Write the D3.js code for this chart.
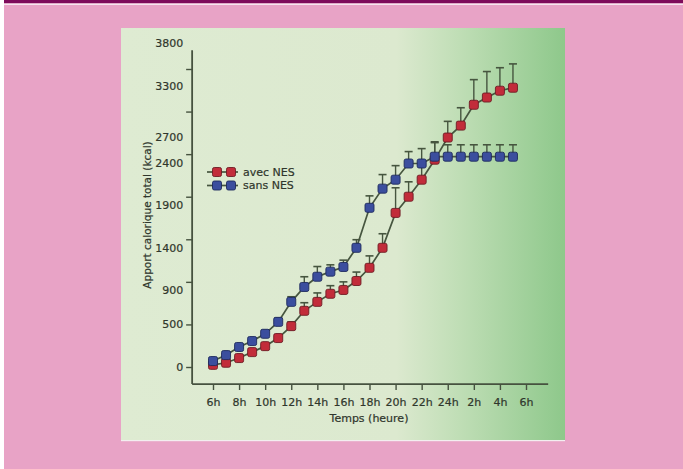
<!DOCTYPE html>
<html>
<head>
<meta charset="utf-8">
<script src="https://cdn.jsdelivr.net/npm/d3@7/dist/d3.min.js"></script>
<style>
  html, body { margin: 0; padding: 0; background: #E8A3C6; }
  svg { display: block; }
  text { font-family: "DejaVu Sans", sans-serif; fill: #2f362c; stroke: #2f362c; stroke-width: 0.2px; }
</style>
</head>
<body>
<svg id="chart" width="683" height="469"></svg>
<script>
// ---- data ----
const hours = [6,7,8,9,10,11,12,13,14,15,16,17,18,19,20,21,22,23,24,25,26,27,28,29];
const avecNES = [25,50,105,175,245,340,480,660,765,860,905,1010,1165,1400,1810,2000,2200,2435,2695,2835,3080,3165,3245,3280];
const avecNESErr = [35,35,35,35,35,40,50,95,105,95,95,105,140,165,295,175,175,210,190,210,295,305,270,280];
const sansNES = [70,140,235,305,390,530,765,940,1060,1120,1175,1400,1870,2095,2200,2390,2390,2470,2470,2470,2470,2470,2470,2470];
const sansNESErr = [35,35,35,35,40,45,60,120,120,80,80,95,140,165,165,140,175,165,140,140,140,140,140,140];
const xTickValues = [6,8,10,12,14,16,18,20,22,24,26,28,30];
const xTickLabels = ["6h","8h","10h","12h","14h","16h","18h","20h","22h","24h","2h","4h","6h"];
const yTickValues = [0,500,1000,1500,2000,2500,3000,3500];
const yLabelValues = [0,500,900,1400,1900,2400,2700,3300,3800];
const seriesNames = ["avec NES","sans NES"];

// ---- drawing ----
const svg = d3.select("#chart");
const W = 683, H = 469;

// page background
svg.append("rect").attr("width", W).attr("height", H).attr("fill", "#E8A3C6");
svg.append("rect").attr("x", 0).attr("y", 0).attr("width", 4).attr("height", H).attr("fill", "#ffffff");
svg.append("rect").attr("x", 4).attr("y", 0).attr("width", W - 4).attr("height", 3.2).attr("fill", "#7E0B5B");
svg.append("rect").attr("x", 4).attr("y", 3.6).attr("width", W - 4).attr("height", 1.4).attr("fill", "#F6E6EF");

// panel with gradient
const defs = svg.append("defs");
const grad = defs.append("linearGradient").attr("id", "pg").attr("x1", "0").attr("x2", "1").attr("y1", "0").attr("y2", "0");
[[0, "#DEEBD2"], [0.62, "#DCE9CF"], [0.76, "#C0DEB6"], [1, "#8EC88B"]].forEach(([o, c]) =>
  grad.append("stop").attr("offset", o).attr("stop-color", c));
svg.append("rect").attr("x", 121).attr("y", 28).attr("width", 444).attr("height", 412).attr("fill", "url(#pg)");
svg.append("rect").attr("x", 121).attr("y", 440).attr("width", 444).attr("height", 1.2).attr("fill", "#F3EEF0");

// scales
const x = d3.scaleLinear().domain([6, 30]).range([213, 526]);
const y = d3.scaleLinear().domain([0, 3500]).range([367, 69]);
const xExt = [4.4, 31.7];
const yExt = [-200, 3720];
const axisColor = "#46523F";

// y axis line
svg.append("line").attr("x1", x(xExt[0])).attr("x2", x(xExt[0]))
  .attr("y1", y(yExt[1])).attr("y2", y(yExt[0]))
  .attr("stroke", axisColor).attr("stroke-width", 1.8);
// x axis line
svg.append("line").attr("x1", x(xExt[0])).attr("x2", x(xExt[1]))
  .attr("y1", y(yExt[0])).attr("y2", y(yExt[0]))
  .attr("stroke", axisColor).attr("stroke-width", 1.8);

// y ticks
const yAxisG = svg.append("g").attr("transform", `translate(${x(xExt[0])},0)`)
  .call(d3.axisLeft(y).tickValues(yTickValues).tickFormat("").tickSize(6).tickSizeOuter(0));
yAxisG.select(".domain").remove();
yAxisG.selectAll("line").attr("stroke", axisColor).attr("stroke-width", 1.4);

// y labels
const yLabG = svg.append("g").attr("transform", `translate(${x(xExt[0])},0)`)
  .call(d3.axisLeft(y).tickValues(yLabelValues).tickFormat(d3.format("d")).tickSize(0).tickPadding(9));
yLabG.select(".domain").remove();
yLabG.selectAll("text").style("font-size", "11px").attr("fill", "#2f362c");

// x axis ticks + labels
const xAxisG = svg.append("g").attr("transform", `translate(0,${y(yExt[0])})`)
  .call(d3.axisBottom(x).tickValues(xTickValues).tickFormat((d, i) => xTickLabels[i]).tickSize(6).tickPadding(8));
xAxisG.select(".domain").remove();
xAxisG.selectAll("line").attr("stroke", axisColor).attr("stroke-width", 1.4);
xAxisG.selectAll("text").style("font-size", "11px").attr("fill", "#2f362c");

// axis titles
svg.append("text").attr("x", 369).attr("y", 422).attr("text-anchor", "middle")
  .style("font-size", "11px").text("Temps (heure)");
svg.append("text").attr("transform", "translate(151,215) rotate(-90)").attr("text-anchor", "middle")
  .style("font-size", "10.5px").text("Apport calorique total (kcal)");

// series
const series = [
  { name: seriesNames[0], vals: avecNES, err: avecNESErr, fill: "#C22C3A", stroke: "#6E1C24" },
  { name: seriesNames[1], vals: sansNES, err: sansNESErr, fill: "#3B4E9E", stroke: "#1E2A5E" }
];
const lineColor = "#46553F";
const line = d3.line().x(d => x(d[0])).y(d => y(d[1]));
const ms = 9;

series.forEach(s => {
  const pts = hours.map((h, i) => [h, s.vals[i], s.err[i]]);
  const g = svg.append("g");
  g.append("path").attr("d", line(pts)).attr("fill", "none").attr("stroke", lineColor).attr("stroke-width", 1.7);
  const eb = g.selectAll(".eb").data(pts).enter().append("g");
  eb.append("line").attr("x1", d => x(d[0])).attr("x2", d => x(d[0]))
    .attr("y1", d => y(d[1])).attr("y2", d => y(d[1] + d[2]))
    .attr("stroke", lineColor).attr("stroke-width", 1.4);
  eb.append("line").attr("x1", d => x(d[0]) - 4).attr("x2", d => x(d[0]) + 4)
    .attr("y1", d => y(d[1] + d[2])).attr("y2", d => y(d[1] + d[2]))
    .attr("stroke", lineColor).attr("stroke-width", 1.6);
  g.selectAll(".m").data(pts).enter().append("rect")
    .attr("x", d => x(d[0]) - ms / 2).attr("y", d => y(d[1]) - ms / 2)
    .attr("width", ms).attr("height", ms).attr("rx", 1.8)
    .attr("fill", s.fill).attr("stroke", s.stroke).attr("stroke-width", 0.9);
});

// legend
series.forEach((s, i) => {
  const ly = 172 + i * 13.5;
  const g = svg.append("g");
  g.append("line").attr("x1", 207).attr("x2", 238).attr("y1", ly).attr("y2", ly)
    .attr("stroke", lineColor).attr("stroke-width", 1.7);
  [217, 231].forEach(cx => g.append("rect").attr("x", cx - ms / 2).attr("y", ly - ms / 2)
    .attr("width", ms).attr("height", ms).attr("rx", 1.8)
    .attr("fill", s.fill).attr("stroke", s.stroke).attr("stroke-width", 0.9));
  g.append("text").attr("x", 243).attr("y", ly).attr("dy", "0.36em")
    .style("font-size", "11px").text(s.name);
});
</script>
</body>
</html>
